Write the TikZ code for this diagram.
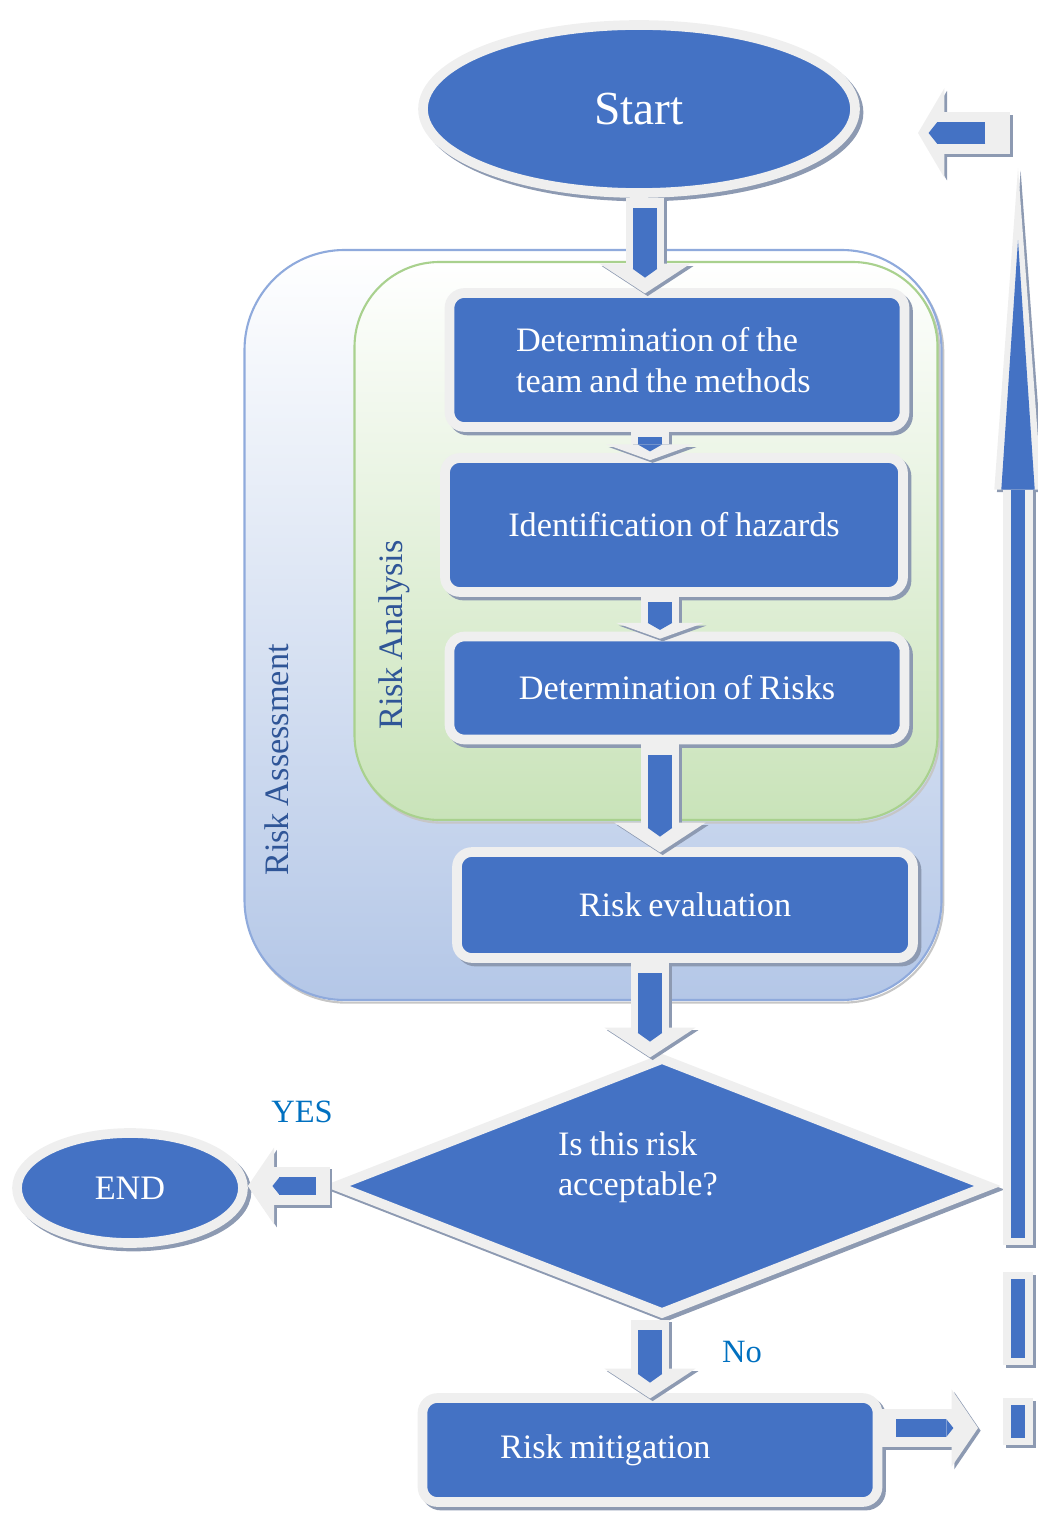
\documentclass[tikz,border=0pt]{standalone}
\usepackage{fontspec}
\setmainfont{Liberation Serif}[WordSpace=0.8]
\usetikzlibrary{arrows.meta, shapes.geometric}

\definecolor{boxblue}{HTML}{4472C4}
\definecolor{framegray}{HTML}{EFEFEF}
\definecolor{shadowgray}{HTML}{8D9AB2}
\definecolor{assessline}{HTML}{8FAADC}
\definecolor{assessfill}{HTML}{B4C7E7}
\definecolor{analysisline}{HTML}{A9D18E}
\definecolor{analysisfill}{HTML}{C9E3B9}
\definecolor{labelblue}{HTML}{2F5597}
\definecolor{answerblue}{HTML}{0070C0}

\tikzset{
  % boxes of the flow
  stepbox/.style={rectangle, rounded corners=3mm, fill=boxblue, draw=framegray, line width=5.5pt,
    preaction={draw=shadowgray, line width=5.5pt, transform canvas={shift={(2pt,-2pt)}}},
    text=white, font=\fontsize{19.5}{23}\selectfont, inner sep=0pt, align=center},
  stepoval/.style={stepbox, ellipse},
  stepdiamond/.style={stepbox, diamond, sharp corners, aspect=2.5},
  groupbox/.style={rectangle, line width=1.2pt,
    preaction={draw=gray!45, line width=1.2pt, transform canvas={shift={(1pt,-1.5pt)}}}},
  grouplabel/.style={rotate=90, text=labelblue, font=\fontsize{19.5}{23}\selectfont},
  answer/.style={text=answerblue, font=\fontsize{18.5}{22}\selectfont},
  % block arrows: shaft, head width, head length, then the blue inner arrow, last the overlap
  fat/.style n args={9}{
    preaction={draw=shadowgray, line width=#1, -{Triangle[width=#2,length=#3,line width'=0pt]},
      shorten >=#9, transform canvas={shift={(1.5pt,-1.5pt)}}},
    draw=framegray, line width=#1, -{Triangle[width=#2,length=#3,line width'=0pt]}, shorten >=#9,
    postaction={draw=boxblue, line width=#4, -{Triangle[width=#5,length=#6,line width'=0pt]},
      shorten <=#7, shorten >=#8}},
  fatbar/.style n args={3}{
    preaction={draw=shadowgray, line width=#1, transform canvas={shift={(1.5pt,-1.5pt)}}},
    draw=framegray, line width=#1,
    postaction={draw=boxblue, line width=#2, shorten <=#3, shorten >=#3}},
  downarrow/.style={fat={22pt}{52pt}{17pt}{14pt}{14pt}{5pt}{6pt}{6pt}{-3pt}},
  shortarrow/.style={fat={22pt}{50pt}{9pt}{14pt}{14pt}{4pt}{3pt}{1pt}{-4pt}},
  sidearrow/.style={fat={22pt}{44pt}{15pt}{10pt}{10pt}{4pt}{8pt}{14pt}{0pt}},
}

\begin{document}
\begin{tikzpicture}[x=0.2mm, y=-0.2mm]
  \useasboundingbox (0,0) rectangle (1038,1515);

  % Risk assessment and risk analysis groups
  \node (assess) [groupbox, draw=assessline, top color=white, bottom color=assessfill,
    rounded corners=20mm, minimum width=139.4mm, minimum height=150mm] at (593,625) {};
  \node (analysis) [groupbox, draw=analysisline, top color=white, bottom color=analysisfill,
    rounded corners=17mm, minimum width=116.6mm, minimum height=111.6mm] at (646,541) {};
  \node (assesslabel) [grouplabel] at (277,760) {Risk Assessment};
  \node (analysislabel) [grouplabel] at (394,635) {Risk Analysis};

  % Flow
  \node (start) [stepoval, minimum width=86.4mm, minimum height=33.6mm,
    font=\fontsize{27}{30}\selectfont] at (639,109) {Start};
  \node (team) [stepbox, minimum width=91mm, minimum height=26.8mm, align=left] at (677,360)
    {\makebox[64.4mm][l]{Determination of the}\\\makebox[64.4mm][l]{team and the methods}};
  \node (hazards) [stepbox, minimum width=91.6mm, minimum height=26.8mm] at (674,525) {Identification of hazards};
  \node (risks) [stepbox, minimum width=91mm, minimum height=20.6mm] at (677,688) {Determination of Risks};
  \node (evaluation) [stepbox, minimum width=91.2mm, minimum height=21.2mm] at (685,905) {Risk evaluation};
  \node (decision) [stepdiamond, minimum width=131mm, minimum height=51.6mm,
    align=left, text depth=9mm] at (662,1186)
    {\makebox[41.6mm][l]{Is this risk}\\\makebox[41.6mm][l]{acceptable?}};
  \node (endnode) [stepoval, minimum width=45.2mm, minimum height=22mm] at (130,1188) {END};
  \node (mitigation) [stepbox, minimum width=91mm, minimum height=20.8mm] at (650,1450)
    {\makebox[60mm][l]{Risk mitigation}};

  \node (yes) [answer] at (302,1112) {YES};
  \node (no) [answer] at (742,1352) {No};

  % Columns and loop back points
  \coordinate (colA) at (645,0);
  \coordinate (colB) at (650,0);
  \coordinate (colC) at (660,0);
  \coordinate (loopA) at (978,1428);
  \coordinate (barA1) at (1018,1445);
  \coordinate (barA2) at (1018,1398);
  \coordinate (barB1) at (1018,1365);
  \coordinate (barB2) at (1018,1272);
  \coordinate (upfrom) at (1018,1245);
  \coordinate (upto) at (1018,168);
  \coordinate (backfrom) at (1010,133);
  \coordinate (backto) at (918,133);

  % Arrows
  \draw[downarrow] (start.south -| colA) -- (team.north -| colA);
  \draw[shortarrow] (team.south -| colB) -- (hazards.north -| colB);
  \draw[shortarrow] (hazards.south -| colC) -- (risks.north -| colC);
  \draw[downarrow] (risks.south -| colC) -- (evaluation.north -| colC);
  \draw[downarrow] (evaluation.south -| colB) -- (decision.north -| colB);
  \draw[downarrow] (decision.south -| colB) -- (mitigation.north -| colB);
  \draw[sidearrow] (decision.west) -- (endnode.east |- decision.west);
  \draw[sidearrow] (mitigation.east |- loopA) -- (loopA);

  % Way back to the start
  \draw[fatbar={17pt}{7.5pt}{4pt}] (barA1) -- (barA2);
  \draw[fatbar={17pt}{7.5pt}{4pt}] (barB1) -- (barB2);
  \draw[fat={17pt}{27pt}{183pt}{7.5pt}{19pt}{142pt}{4pt}{41pt}{0pt}] (upfrom) -- (upto);
  \draw[fat={24pt}{51pt}{15pt}{12.5pt}{12.5pt}{5pt}{14pt}{6pt}{0pt}] (backfrom) -- (backto);
\end{tikzpicture}
\end{document}
